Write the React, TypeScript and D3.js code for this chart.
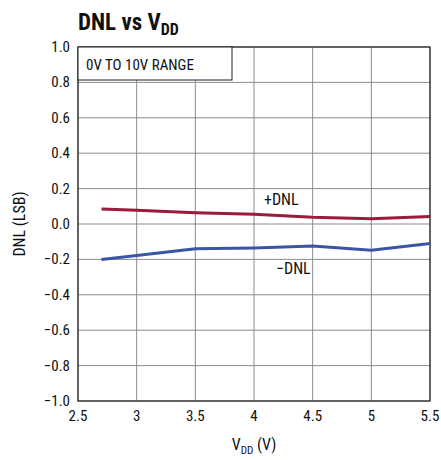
import React from "react";
import * as d3 from "d3";

const vdd = [2.7, 3, 3.5, 4, 4.5, 5, 5.5];
const dnlPos = [0.085, 0.078, 0.063, 0.055, 0.038, 0.03, 0.043];
const dnlNeg = [-0.2, -0.178, -0.14, -0.135, -0.125, -0.148, -0.11];
const xTicks = [2.5, 3, 3.5, 4, 4.5, 5, 5.5];
const yTicks = [1, 0.8, 0.6, 0.4, 0.2, 0, -0.2, -0.4, -0.6, -0.8, -1];

const font = "'Liberation Sans Narrow', 'Roboto Condensed', 'Liberation Sans', sans-serif";
const m = { left: 78, right: 430, top: 47, bottom: 401 };

const fmt = (v: number) => {
  const s = Math.abs(v).toFixed(1);
  return (v < 0 ? "\u2212" : "") + s;
};

export default function App() {
  const x = d3.scaleLinear().domain([2.5, 5.5]).range([m.left, m.right]);
  const y = d3.scaleLinear().domain([-1, 1]).range([m.bottom, m.top]);
  const line = d3
    .line<number>()
    .x((_, i) => x(vdd[i]))
    .y((d) => y(d));

  return (
    <svg
      width={441}
      height={460}
      style={{ position: "absolute", left: 0, top: 0, background: "#fff" }}
      fontFamily={font}
    >
      <text x={78} y={30} fontSize={23} fontWeight="bold" fill="#111">
        DNL vs V<tspan fontSize={16} dy={5}>DD</tspan>
      </text>
      {xTicks.map((t) => (
        <line key={"gx" + t} x1={x(t)} x2={x(t)} y1={m.top} y2={m.bottom} stroke="#8c8c8c" strokeWidth={1} />
      ))}
      {yTicks.map((t) => (
        <line key={"gy" + t} x1={m.left} x2={m.right} y1={y(t)} y2={y(t)} stroke="#8c8c8c" strokeWidth={1} />
      ))}
      <rect x={m.left} y={m.top} width={m.right - m.left} height={m.bottom - m.top} fill="none" stroke="#222" strokeWidth={1.2} />
      <rect x={m.left} y={m.top} width={154} height={33} fill="#fff" stroke="#222" strokeWidth={1} />
      <text x={86} y={70} fontSize={15} fill="#111">0V TO 10V RANGE</text>
      <path d={line(dnlPos) ?? ""} fill="none" stroke="#9b1b3c" strokeWidth={3} />
      <path d={line(dnlNeg) ?? ""} fill="none" stroke="#3a55a4" strokeWidth={3} />
      <text x={264} y={205} fontSize={16} fill="#111">+DNL</text>
      <text x={276} y={274} fontSize={16} fill="#111">{"\u2212DNL"}</text>
      {yTicks.map((t) => (
        <text key={"ty" + t} x={70} y={y(t) + 5} fontSize={15} textAnchor="end" fill="#111">
          {fmt(t)}
        </text>
      ))}
      {xTicks.map((t) => (
        <text key={"tx" + t} x={x(t)} y={421} fontSize={15} textAnchor="middle" fill="#111">
          {t === 3 || t === 4 || t === 5 ? String(t) : t.toFixed(1)}
        </text>
      ))}
      <text x={254} y={450} fontSize={16} textAnchor="middle" fill="#111">
        V<tspan fontSize={11} dy={4}>DD</tspan><tspan dy={-4}> (V)</tspan>
      </text>
      <text transform="translate(25,224) rotate(-90)" fontSize={16} textAnchor="middle" fill="#111">
        DNL (LSB)
      </text>
    </svg>
  );
}
